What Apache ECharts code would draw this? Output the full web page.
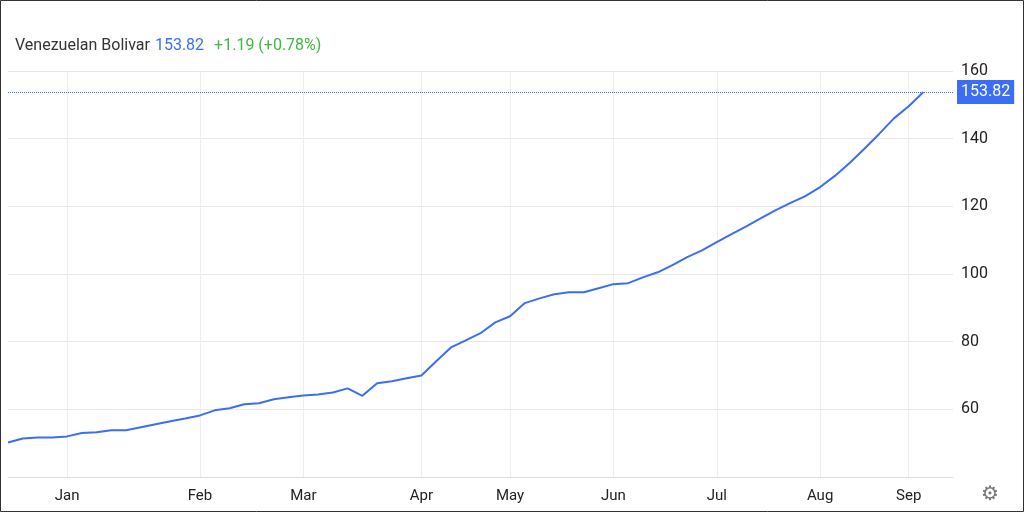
<!DOCTYPE html><html><head><meta charset="utf-8">
<script src="https://cdn.jsdelivr.net/npm/echarts@6/dist/echarts.min.js"></script>
<style>html,body{margin:0;padding:0;background:#fff}#c{width:1024px;height:512px}</style></head><body><div id="c"></div>
<script>
const values=[50.2,51.4,51.7,51.7,52,53,53.2,53.8,53.8,54.7,55.6,56.5,57.3,58.2,59.7,60.3,61.5,61.8,63,63.6,64.1,64.4,65,66.2,64,67.7,68.3,69.2,70,74.2,78.3,80.4,82.5,85.7,87.5,91.4,92.8,94,94.6,94.6,95.8,97,97.3,99,100.5,102.6,105,107,109.4,111.8,114.1,116.5,118.9,121,123,125.7,129,132.8,137,141.4,146,149.6,153.82];
const monthLabels={4:'Jan',13:'Feb',20:'Mar',28:'Apr',34:'May',41:'Jun',48:'Jul',55:'Aug',61:'Sep'};
const lastValue=153.82, change='+1.19', changePct='(+0.78%)', seriesName='Venezuelan Bolivar';
const cats=[];for(let i=0;i<=64;i++)cats.push(String(i));
const monthIdx=Object.keys(monthLabels).map(Number);
const chart=echarts.init(document.getElementById('c'));
chart.setOption({
  animation:false,
  graphic:[{type:'rect',shape:{x:0.5,y:0.5,width:1023,height:511},style:{fill:'none',stroke:'#333',lineWidth:1}},
           {type:'text',left:981,top:484,style:{text:'⚙',fontSize:20,fill:'#777'}}],
  title:{left:10,top:32,text:`{n|${seriesName}} {v|${lastValue}}  {c|${change} ${changePct}}`,
    textStyle:{fontWeight:'normal',rich:{n:{fontSize:16,color:'#333',fontFamily:'Roboto',fontWeight:'normal'},v:{fontSize:16,color:'#3b6ef5',fontFamily:'Roboto',fontWeight:'normal'},c:{fontSize:16,color:'#3fb83f',fontFamily:'Roboto',fontWeight:'normal'}}}},
  grid:{left:8,right:71,top:71,bottom:35},
  xAxis:{type:'category',data:cats,boundaryGap:false,
    axisLine:{show:true,lineStyle:{color:'#ddd'}},axisTick:{show:false},
    axisLabel:{interval:(i)=>monthIdx.includes(i),formatter:(v,i)=>monthLabels[i]||'',color:'#222',fontSize:15,margin:12,fontFamily:'Roboto'},
    splitLine:{show:true,interval:(i)=>monthIdx.includes(i),lineStyle:{color:'#eee'}}},
  yAxis:{type:'value',position:'right',min:40,max:160,interval:20,
    axisLine:{show:false},axisTick:{show:false},
    axisLabel:{formatter:v=>v===40?'':v,color:'#222',fontSize:16,margin:8,fontFamily:'Roboto'},
    splitLine:{lineStyle:{color:'#e6e6e6'}}},
  series:[{type:'line',data:values,showSymbol:false,lineStyle:{color:'#3b6ef5',width:2},
    markLine:{symbol:'none',silent:true,data:[{yAxis:lastValue}],
      lineStyle:{color:'#3b6ef5',type:'dotted',width:1},
      label:{position:'end',formatter:String(lastValue),backgroundColor:'#3b6ef5',color:'#fff',fontSize:16,padding:[4,4],distance:4,fontFamily:'Roboto'}}}]
});
</script></body></html>
